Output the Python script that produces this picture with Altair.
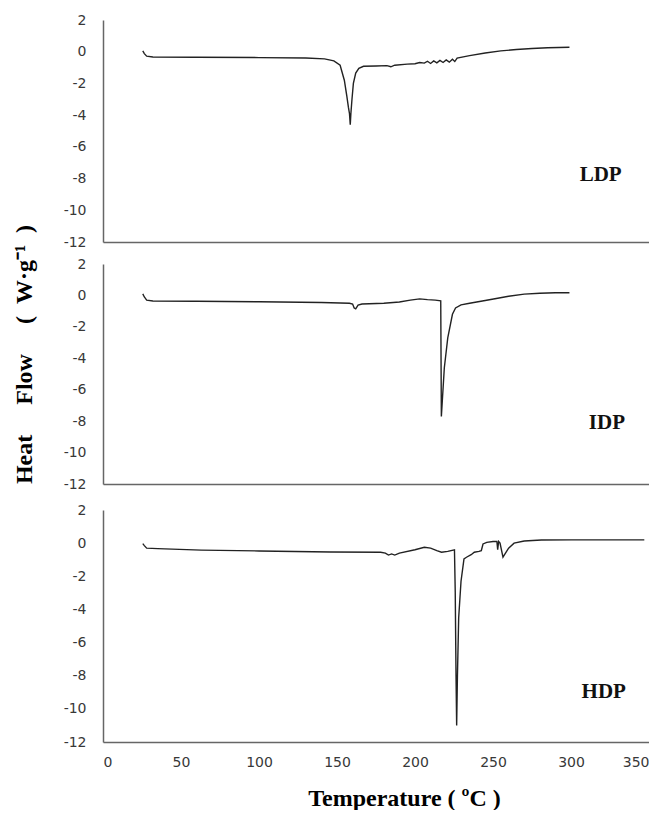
import altair as alt
import pandas as pd

# ---- data ----
ldp_t = [25.5, 26.5, 28, 32, 60, 100, 130, 142, 148, 152, 154.7, 156.3, 157.3, 158.0, 158.5,
         158.9, 159.6, 160.5, 162, 164, 167, 175, 182, 184.5, 187, 195, 200, 203, 206, 208,
         210, 212, 214, 216, 218, 220, 222, 224, 225.5, 227, 235, 245, 255, 265, 275, 285, 299]
ldp_hf = [0.05, -0.12, -0.28, -0.33, -0.35, -0.37, -0.4, -0.45, -0.58, -0.85, -1.8, -2.8, -3.5, -3.9, -4.6,
          -3.9, -3.0, -2.0, -1.35, -1.05, -0.92, -0.9, -0.88, -0.95, -0.85, -0.78, -0.76, -0.68, -0.72, -0.6,
          -0.74, -0.58, -0.7, -0.55, -0.68, -0.52, -0.66, -0.48, -0.62, -0.4, -0.25, -0.08, 0.05, 0.14, 0.2, 0.25, 0.28]

idp_t = [25.5, 26.5, 28, 32, 60, 100, 140, 158, 160, 161, 162, 163.5, 166, 180, 190, 197, 203, 208,
         213, 216.5, 216.9, 218.8, 221, 224, 226, 229.5, 235, 245, 253, 260, 270, 280, 290, 299]
idp_hf = [0.1, -0.1, -0.3, -0.35, -0.37, -0.4, -0.45, -0.5, -0.55, -0.8, -0.85, -0.62, -0.55, -0.5, -0.42, -0.3, -0.22, -0.27,
          -0.3, -0.35, -7.7, -4.6, -2.7, -1.2, -0.8, -0.6, -0.5, -0.32, -0.18, -0.05, 0.08, 0.14, 0.17, 0.17]

hdp_t = [25.5, 26.5, 28, 35, 63, 100, 146, 178, 181, 183, 185, 187, 190, 200, 206, 210, 214, 217, 221,
         225.3, 225.8, 226.3, 226.7, 227.2, 228, 229.5, 231.4, 233, 236, 238, 241, 242.5, 243.6, 246, 250,
         252.5, 253, 253.6, 254.5, 256.4, 258, 260, 263.5, 270, 281, 300, 347]
hdp_hf = [-0.03, -0.15, -0.3, -0.33, -0.42, -0.47, -0.53, -0.55, -0.6, -0.72, -0.65, -0.72, -0.6, -0.4, -0.25, -0.3, -0.45, -0.55, -0.5,
          -0.4, -3.0, -8.0, -11.0, -8.0, -4.5, -2.3, -0.95, -0.85, -0.7, -0.55, -0.5, -0.45, -0.05, 0.05, 0.1,
          0.1, -0.4, 0.1, 0.0, -0.84, -0.6, -0.3, 0.0, 0.13, 0.19, 0.2, 0.2]

panel_names = ["LDP", "IDP", "HDP"]
label_t = [319, 323, 321]
label_hf = [-7.8, -8.1, -9.0]

x_ticks = [0, 50, 100, 150, 200, 250, 300, 350]
y_ticks = [-12, -10, -8, -6, -4, -2, 0, 2]

series = [(ldp_t, ldp_hf), (idp_t, idp_hf), (hdp_t, hdp_hf)]
heights = [222, 220, 232]

AXIS_COLOR = "#666666"
LABEL_COLOR = "#383838"
SERIF = "Liberation Serif"


def make_panel(i):
    t, hf = series[i]
    df = pd.DataFrame({"t": t, "hf": hf})
    bottom = i == 2

    x_axis_kw = dict(grid=False, ticks=False, tickSize=0, domainColor=AXIS_COLOR, domainWidth=1.5)
    if bottom:
        x_axis = alt.Axis(values=x_ticks, labelFont="DejaVu Sans", labelFontSize=14,
                          labelColor=LABEL_COLOR, labelPadding=13,
                          title="Temperature ( ºC )", titleFont=SERIF, titleFontSize=24,
                          titleFontWeight="bold", titleColor="#000000",
                          titleX=301, titleY=56, titleBaseline="middle", titleAlign="center",
                          **x_axis_kw)
    else:
        x_axis = alt.Axis(labels=False, title=None, values=x_ticks, **x_axis_kw)

    y_axis = alt.Axis(values=y_ticks, grid=False, ticks=False, tickSize=0, title=None,
                      domainColor=AXIS_COLOR, domainWidth=1.5,
                      labelFont="DejaVu Sans", labelFontSize=14, labelColor=LABEL_COLOR,
                      labelPadding=17, labelExpr="'' + datum.value")

    xs = alt.Scale(domain=[0, 350], nice=False, zero=False)
    ys = alt.Scale(domain=[-12, 2], nice=False, zero=False)

    line = alt.Chart(df).mark_line(color="#222222", strokeWidth=1.4).encode(
        x=alt.X("t:Q", scale=xs, axis=x_axis),
        y=alt.Y("hf:Q", scale=ys, axis=y_axis),
    )
    lab_df = pd.DataFrame({"t": [label_t[i]], "hf": [label_hf[i]], "s": [panel_names[i]]})
    lab = alt.Chart(lab_df).mark_text(font=SERIF, fontWeight="bold", fontSize=21,
                                      color="#111111").encode(
        x=alt.X("t:Q", scale=xs, axis=x_axis),
        y=alt.Y("hf:Q", scale=ys, axis=y_axis),
        text="s:N",
    )
    return alt.layer(line, lab).properties(width=546, height=heights[i])


p1, p2, p3 = [make_panel(i) for i in range(3)]

chart = alt.vconcat(
    alt.vconcat(p1, p2, spacing=8),
    p3,
    spacing=12,
).properties(
    title=alt.TitleParams(
        text="Heat\u2003 Flow\u2003 (\u2002W·g⁻¹\u2002)",
        orient="left", anchor="middle", font=SERIF, fontSize=24,
        fontWeight="bold", color="#000000", offset=26, dx=57,
    ),
    padding={"left": 5, "top": 5, "right": 0, "bottom": 0},
    background="white",
).configure_view(stroke=None)

chart.save("out.html", embed_options={"renderer": "svg", "actions": False})
